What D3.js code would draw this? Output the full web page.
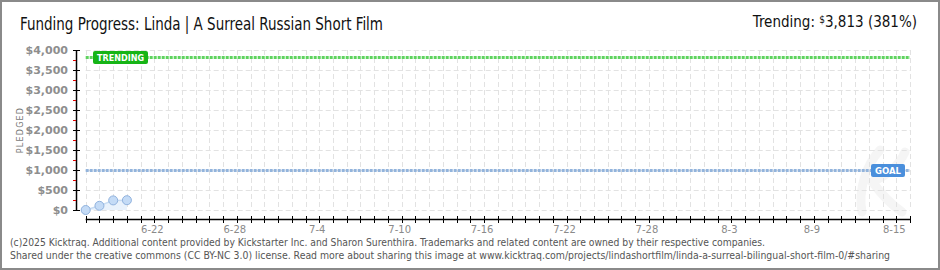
<!DOCTYPE html>
<html>
<head>
<meta charset="utf-8">
<script src="https://cdn.jsdelivr.net/npm/d3@7"></script>
<style>
  body { margin: 0; background: #fff; }
  svg { display: block; }
</style>
</head>
<body>
<div id="chart"></div>
<script>
// data
let dates = ["2025-06-17", "2025-06-18", "2025-06-19", "2025-06-20"];
let pledged = [0, 105, 240, 245];
let goal = 1000;
let trending = 3813;
let yTicks = [0, 500, 1000, 1500, 2000, 2500, 3000, 3500, 4000];
let xLabels = ["2025-06-22", "2025-06-28", "2025-07-04", "2025-07-10", "2025-07-16",
               "2025-07-22", "2025-07-28", "2025-08-03", "2025-08-09", "2025-08-15"];
let xStart = "2025-06-17", xEnd = "2025-08-16";

let width = 940, height = 270;
let parse = d3.timeParse("%Y-%m-%d");
let points = dates.map((d, i) => ({ date: parse(d), value: pledged[i] }));

let svg = d3.select("#chart").append("svg")
  .attr("width", width).attr("height", height);

// frame
svg.append("rect")
  .attr("x", 1).attr("y", 1).attr("width", width - 2).attr("height", height - 2)
  .attr("fill", "#fff").attr("stroke", "#8a8a8a").attr("stroke-width", 2);

let x = d3.scaleTime().domain([parse(xStart), parse(xEnd)]).range([85.7, 910]);
let y = d3.scaleLinear().domain([0, 4000]).range([210, 50]);
let days = d3.timeDay.range(parse(xStart), d3.timeDay.offset(parse(xEnd), 1));

// faint watermark (drawn as a shape, not text)
svg.append("path")
  .attr("d", "M862,212 C858,190 866,165 880,150 M872,182 C885,176 898,168 905,152 M874,184 C882,195 892,205 902,212")
  .attr("fill", "none").attr("stroke", "#f5f5f5").attr("stroke-width", 9).attr("stroke-linecap", "round");

// grid
let grid = svg.append("g").attr("stroke", "#e2e2e2").attr("stroke-width", 1)
  .attr("stroke-dasharray", "5,3");
grid.selectAll(".hg").data(yTicks).enter().append("line")
  .attr("x1", x.range()[0]).attr("x2", x.range()[1])
  .attr("y1", d => Math.round(y(d)) + 0.5).attr("y2", d => Math.round(y(d)) + 0.5);
grid.selectAll(".vg").data(days).enter().append("line")
  .attr("x1", d => Math.round(x(d)) + 0.5).attr("x2", d => Math.round(x(d)) + 0.5)
  .attr("y1", y(4000)).attr("y2", y(0));

// goal and trending lines
function refLine(v, color) {
  svg.append("line")
    .attr("x1", x.range()[0]).attr("x2", x.range()[1])
    .attr("y1", Math.round(y(v)) + 0.5).attr("y2", Math.round(y(v)) + 0.5)
    .attr("stroke", color).attr("stroke-width", 3).attr("stroke-dasharray", "3,1");
}
refLine(trending, "#5fd35f");
refLine(goal, "#93b4dc");

// area + line + points
let area = d3.area().x(d => x(d.date)).y0(y(0)).y1(d => y(d.value));
svg.append("path").datum(points).attr("d", area).attr("fill", "#e9f2fc");
svg.append("path").datum(points)
  .attr("d", d3.line().x(d => x(d.date)).y(d => y(d.value)))
  .attr("fill", "none").attr("stroke", "#c8dcf3").attr("stroke-width", 1.5);
svg.selectAll(".pt").data(points).enter().append("circle")
  .attr("cx", d => x(d.date)).attr("cy", d => y(d.value)).attr("r", 4.5)
  .attr("fill", "#c4dbf6").attr("stroke", "#90b2de").attr("stroke-width", 1);

// labels on reference lines
function tag(text, cx, v, w, fill) {
  let g = svg.append("g");
  let cy = Math.round(y(v)) + 0.5;
  g.append("rect").attr("x", cx).attr("y", cy - 6.5).attr("width", w).attr("height", 13)
    .attr("rx", 2).attr("fill", fill);
  g.append("text").attr("x", cx + 4).attr("y", cy + 3.5)
    .attr("font-family", "DejaVu Sans").attr("font-weight", "bold").attr("font-size", 9)
    .attr("textLength", w - 8).attr("lengthAdjust", "spacingAndGlyphs")
    .attr("fill", "#fff").text(text);
}
tag("TRENDING", 93, trending, 55, "#16b416");
tag("GOAL", 871, goal, 34, "#4a8fdc");

// y axis
let yAxis = svg.append("g");
yAxis.append("line").attr("x1", 76.5).attr("x2", 76.5).attr("y1", y(4000)).attr("y2", y(0))
  .attr("stroke", "#000").attr("stroke-width", 1.5);
yAxis.selectAll(".minor").data(d3.range(250, 4000, 500)).enter().append("line")
  .attr("x1", 73).attr("x2", 76).attr("y1", d => Math.round(y(d)) + 0.5).attr("y2", d => Math.round(y(d)) + 0.5)
  .attr("stroke", "#e00000").attr("stroke-width", 1);
yAxis.selectAll(".major").data(yTicks).enter().append("line")
  .attr("x1", 73).attr("x2", 80).attr("y1", d => Math.round(y(d)) + 0.5).attr("y2", d => Math.round(y(d)) + 0.5)
  .attr("stroke", "#000").attr("stroke-width", 1);
yAxis.selectAll(".yl").data(yTicks).enter().append("text")
  .attr("x", 68).attr("y", d => y(d) + 4).attr("text-anchor", "end")
  .attr("font-family", "DejaVu Sans").attr("font-weight", "bold").attr("font-size", 11)
  .attr("fill", "#8e8e8e").text(d => "$" + d3.format(",")(d));

svg.append("text")
  .attr("transform", "translate(23,130) rotate(-90)").attr("text-anchor", "middle")
  .attr("font-family", "DejaVu Sans").attr("font-size", 8).attr("letter-spacing", 1.2)
  .attr("fill", "#777").text("PLEDGED");

// x axis
let xAxis = svg.append("g");
xAxis.append("line").attr("x1", x.range()[0]).attr("x2", x.range()[1])
  .attr("y1", 219.5).attr("y2", 219.5).attr("stroke", "#000").attr("stroke-width", 1.5);
xAxis.selectAll(".xt").data(days).enter().append("line")
  .attr("x1", d => Math.round(x(d)) + 0.5).attr("x2", d => Math.round(x(d)) + 0.5)
  .attr("y1", 216).attr("y2", 223).attr("stroke", "#000").attr("stroke-width", 1);
xAxis.selectAll(".xl").data(xLabels.map(parse)).enter().append("text")
  .attr("x", d => x(d) - 2).attr("y", 233).attr("text-anchor", "middle")
  .attr("font-family", "DejaVu Sans").attr("font-size", 10).attr("fill", "#8a8a8a")
  .text(d => d3.timeFormat("%-m-%-d")(d));

// title and trending text
svg.append("text").attr("x", 20).attr("y", 30)
  .attr("font-family", "DejaVu Sans Condensed").attr("font-size", 17).attr("fill", "#111")
  .attr("textLength", 363).attr("lengthAdjust", "spacingAndGlyphs")
  .text("Funding Progress: Linda | A Surreal Russian Short Film");
let tr = svg.append("text").attr("x", 917).attr("y", 27).attr("text-anchor", "end")
  .attr("font-family", "DejaVu Sans Condensed").attr("font-size", 15).attr("fill", "#111");
tr.append("tspan").text("Trending:  ");
tr.append("tspan").attr("font-size", 10).attr("dy", -4).text("$");
tr.append("tspan").attr("dy", 4).text(d3.format(",")(trending) + " (" + Math.round(trending / goal * 100) + "%)");

// footer
let foot = svg.append("g").attr("font-family", "DejaVu Sans Condensed").attr("font-size", 10).attr("fill", "#555");
foot.append("text").attr("x", 10).attr("y", 246).attr("textLength", 755).attr("lengthAdjust", "spacingAndGlyphs")
  .text("(c)2025 Kicktraq. Additional content provided by Kickstarter Inc. and Sharon Surenthira. Trademarks and related content are owned by their respective companies.");
foot.append("text").attr("x", 10).attr("y", 259).attr("textLength", 880).attr("lengthAdjust", "spacingAndGlyphs")
  .text("Shared under the creative commons (CC BY-NC 3.0) license. Read more about sharing this image at www.kicktraq.com/projects/lindashortfilm/linda-a-surreal-bilingual-short-film-0/#sharing");
</script>
</body>
</html>
